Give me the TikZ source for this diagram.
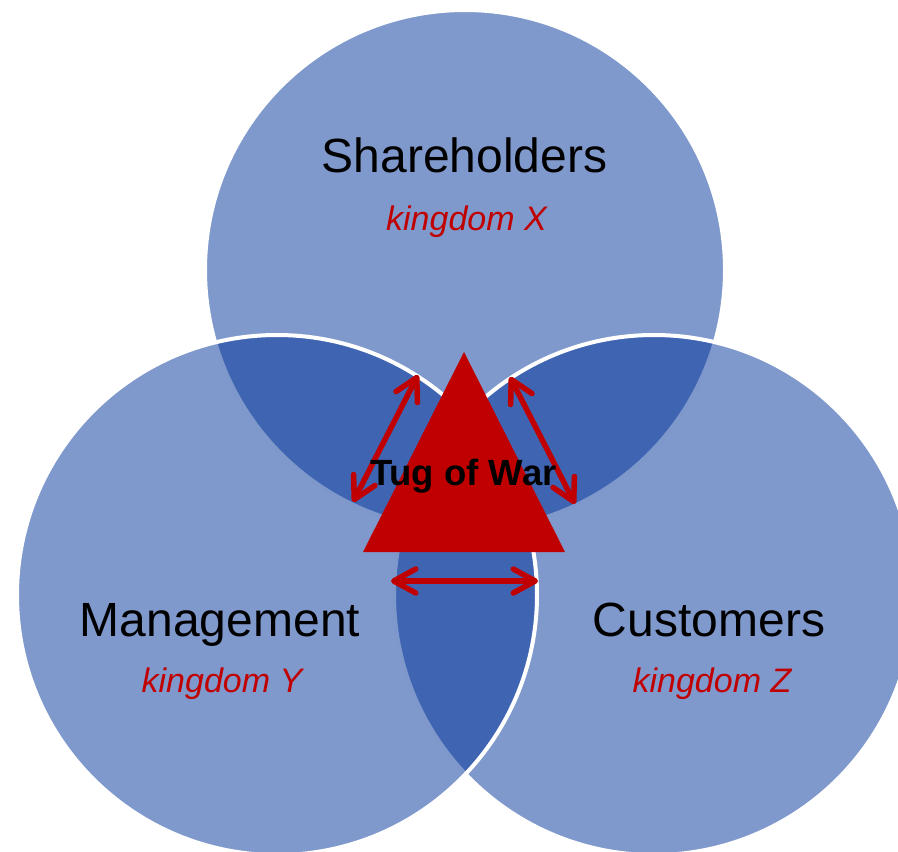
\documentclass[tikz,border=0pt]{standalone}
\usepackage{fontspec}
\setmainfont{Liberation Sans}
\usetikzlibrary{arrows.meta}
\definecolor{circblue}{RGB}{0,51,153}
\definecolor{tugred}{RGB}{192,0,0}
\begin{document}
\begin{tikzpicture}[x=1pt,y=-1pt,
  venn/.style={circle, minimum size=520pt, inner sep=0pt, outer sep=0pt,
    fill=circblue, fill opacity=0.5, draw=white, draw opacity=1, line width=4pt},
  title/.style={anchor=base, font=\fontsize{48}{56}\selectfont, text=black, inner sep=0pt},
  kingdom/.style={anchor=base, font=\fontsize{34}{40}\selectfont\itshape, text=tugred, inner sep=0pt},
  tug/.style={anchor=base, font=\fontsize{36.5}{42}\selectfont\bfseries, text=black, inner sep=0pt},
  pull/.style={draw=tugred, line width=5.5pt,
    {Straight Barb[length=22pt,width=24pt,round]}-{Straight Barb[length=22pt,width=24pt,round]}}]
\useasboundingbox (0,0) rectangle (898,852);
\clip (0,0) rectangle (898,852);
% circles
\node[venn] (topc) at (465,270) {};
\node[venn] (rightc) at (654,595) {};
\node[venn] (leftc) at (277,595) {};
% labels
\node[title] (sh) at (464.5,172) {Shareholders};
\node[kingdom] (kx) at (466.5,230) {kingdom X};
\node[title] (mg) at (220,636) {Management};
\node[kingdom] (ky) at (222,692) {kingdom Y};
\node[title] (cu) at (709,636) {Customers};
\node[kingdom] (kz) at (712,692) {kingdom Z};
% triangle
\coordinate (apex) at (464,352);
\coordinate (bl) at (363,552);
\coordinate (br) at (565,552);
\fill[tugred] (apex) -- (bl) -- (br) -- cycle;
% arrows
\coordinate (a1) at (418,375);
\coordinate (a2) at (353,502);
\coordinate (b1) at (510,377);
\coordinate (b2) at (575,504);
\coordinate (c1) at (391,581);
\coordinate (c2) at (538,581);
\draw[pull] (a1) -- (a2);
\draw[pull] (b1) -- (b2);
\draw[pull] (c1) -- (c2);
\node[tug] (tow) at (463.3,485) {Tug of War};
\end{tikzpicture}
\end{document}
